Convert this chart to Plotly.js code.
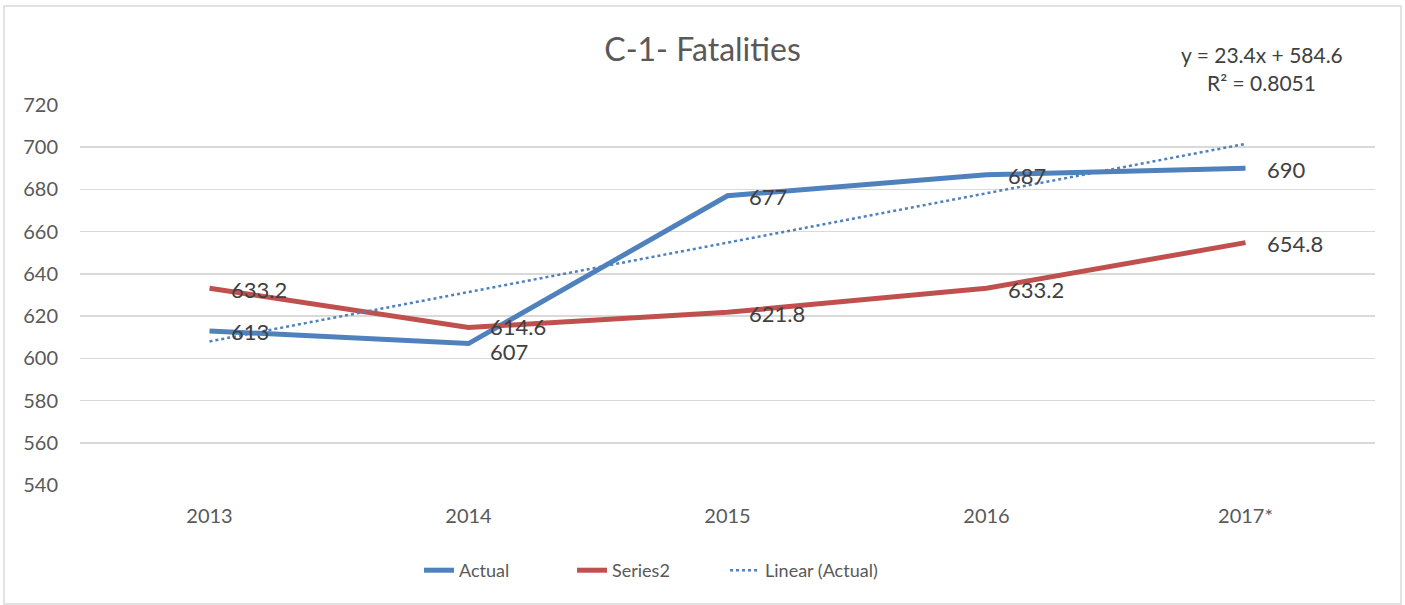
<!DOCTYPE html>
<html>
<head>
<meta charset="utf-8">
<script src="https://cdn.plot.ly/plotly-3.0.1.min.js"></script>
<style>
html,body{margin:0;padding:0;background:#fff;}
#chart{width:1405px;height:605px;}
</style>
</head>
<body>
<div id="chart"></div>
<script>
const categories = ['2013', '2014', '2015', '2016', '2017*'];
const actualValues = [613, 607, 677, 687, 690];
const series2Values = [633.2, 614.6, 621.8, 633.2, 654.8];
const trendValues = [608, 631.4, 654.8, 678.2, 701.6];
const actualLabels = ['613', '607', '677', '687', '690'];
const series2Labels = ['633.2', '614.6', '621.8', '633.2', '654.8'];
const yTicks = [540, 560, 580, 600, 620, 640, 660, 680, 700, 720];
const chartTitle = 'C-1- Fatalities';
const equationText = 'y = 23.4x + 584.6';
const r2Text = 'R² = 0.8051';

const FONT = 'Lato, "Open Sans", sans-serif';
const BLUE = '#4F81BD';
const RED = '#C0504D';

const traces = [
  {x: categories, y: actualValues, name: 'Actual', type: 'scatter', mode: 'lines',
   line: {color: BLUE, width: 5}, hoverinfo: 'x+y'},
  {x: categories, y: series2Values, name: 'Series2', type: 'scatter', mode: 'lines',
   line: {color: RED, width: 5}, hoverinfo: 'x+y'},
  {x: categories, y: trendValues, name: 'Linear (Actual)', type: 'scatter', mode: 'lines',
   line: {color: BLUE, width: 2.5, dash: 'dot'}, hoverinfo: 'skip'}
];

const annotations = [];
const labelFont = {family: FONT, size: 22, color: '#404040'};
actualValues.forEach((v, i) => {
  annotations.push({x: i, y: v, xref: 'x', yref: 'y', text: actualLabels[i],
    showarrow: false, xanchor: 'left', yanchor: 'middle', xshift: 19,
    yshift: i === 1 ? -8 : -1, font: labelFont});
});
series2Values.forEach((v, i) => {
  annotations.push({x: i, y: v, xref: 'x', yref: 'y', text: series2Labels[i],
    showarrow: false, xanchor: 'left', yanchor: 'middle', xshift: 19, yshift: i === 1 ? 1 : -1, font: labelFont});
});
annotations.push({x: 0.9127, y: 1.1316, xref: 'paper', yref: 'paper', text: equationText,
  showarrow: false, xanchor: 'center', yanchor: 'middle', font: {family: FONT, size: 21, color: '#404040'}});
annotations.push({x: 0.9127, y: 1.058, xref: 'paper', yref: 'paper', text: r2Text,
  showarrow: false, xanchor: 'center', yanchor: 'middle', font: {family: FONT, size: 21, color: '#404040'}});

const layout = {
  width: 1405, height: 605,
  margin: {l: 80, r: 30, t: 105, b: 120},
  paper_bgcolor: '#ffffff', plot_bgcolor: '#ffffff',
  font: {family: FONT, color: '#595959', size: 16},
  title: {text: chartTitle, x: 0.5, xanchor: 'center', y: 0.918, yanchor: 'middle',
    font: {family: FONT, size: 32, color: '#595959'}},
  xaxis: {type: 'category', showgrid: false, zeroline: false, showline: false,
    ticks: '', ticklabelstandoff: 17, tickfont: {family: FONT, size: 20, color: '#595959'},
    range: [-0.5, 4.5], fixedrange: true},
  yaxis: {range: [540, 720], tickvals: yTicks, showgrid: true, gridcolor: '#d9d9d9', gridwidth: 1.5,
    zeroline: false, showline: false, ticks: '', ticklabelstandoff: 21,
    tickfont: {family: FONT, size: 20, color: '#595959'}, fixedrange: true},
  showlegend: true,
  legend: {orientation: 'h', x: 0.2618, xanchor: 'left', y: -0.225, yanchor: 'middle',
    font: {family: FONT, size: 18, color: '#595959'}, itemwidth: 30, traceorder: 'normal',
    entrywidth: 108, entrywidthmode: 'pixels'},
  annotations: annotations,
  shapes: [{type: 'rect', xref: 'paper', yref: 'paper', x0: -0.0587, x1: 1.0201, y0: -0.313, y1: 1.2605,
    line: {color: '#d9d9d9', width: 1.5}, fillcolor: 'rgba(0,0,0,0)', layer: 'below'}]
};

Plotly.newPlot('chart', traces, layout, {displayModeBar: false, staticPlot: true});
</script>
</body>
</html>
